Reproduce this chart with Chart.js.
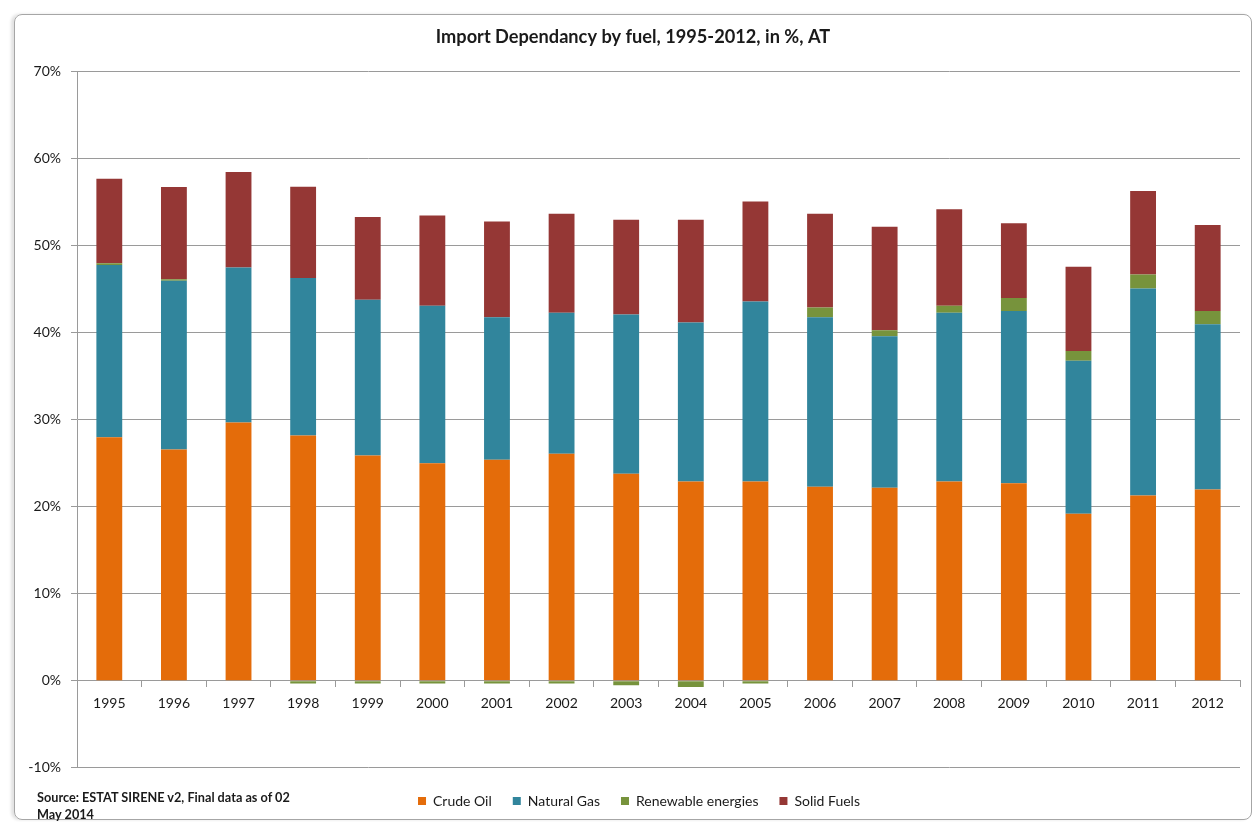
<!DOCTYPE html>
<html>
<head>
<meta charset="utf-8">
<script src="https://cdn.jsdelivr.net/npm/chart.js@4.4.1/dist/chart.umd.min.js"></script>
<style>
  html, body { margin: 0; padding: 0; background: #fff; }
  #wrap { position: relative; width: 1253px; height: 822px; overflow: hidden; }
  #frame {
    position: absolute; left: 14px; top: 14px; width: 1236px; height: 804px;
    border: 1px solid #a6a6a6; border-radius: 8px; box-shadow: -3px 0 3px #e2e2e2;
  }
  canvas { position: absolute; left: 0; top: 0; }
  #source {
    position: absolute; left: 37px; top: 789px;
    font: bold 12.7px Lato, sans-serif; line-height: 17px; color: #1a1a1a;
  }
</style>
</head>
<body>
<div id="wrap">
  <div id="frame"></div>
  <canvas id="importChart" width="1253" height="822"></canvas>
  <div id="source">Source: ESTAT SIRENE v2, Final data as of 02<br>May 2014</div>
</div>
<script>
// values in %
const years = ['1995', '1996', '1997', '1998', '1999', '2000', '2001', '2002', '2003',
               '2004', '2005', '2006', '2007', '2008', '2009', '2010', '2011', '2012'];
const crudeOil   = [28.0, 26.6, 29.7, 28.2, 25.9, 25.0, 25.4, 26.1, 23.8, 22.9, 22.9, 22.3, 22.2, 22.9, 22.7, 19.2, 21.3, 22.0];
const naturalGas = [19.8, 19.4, 17.8, 18.1, 17.9, 18.1, 16.4, 16.2, 18.3, 18.3, 20.7, 19.5, 17.4, 19.4, 19.8, 17.6, 23.8, 19.0];
const renewables = [0.2, 0.15, 0, -0.3, -0.3, -0.3, -0.3, -0.3, -0.5, -0.7, -0.3, 1.1, 0.7, 0.8, 1.5, 1.1, 1.6, 1.5];
const solidFuels = [9.7, 10.6, 11.0, 10.5, 9.5, 10.4, 11.0, 11.4, 10.9, 11.8, 11.5, 10.8, 11.9, 11.1, 8.6, 9.7, 9.6, 9.9];

const gridGrey = '#9a9a9a';
const textCol = '#1a1a1a';

// nudge title and legend a bit right, like in the excel original
const shiftBoxes = {
  id: 'shiftBoxes',
  afterLayout(chart) {
    if (chart.titleBlock) { chart.titleBlock.left += 6; chart.titleBlock.right += 6; }
    if (chart.legend) { chart.legend.left += 12; chart.legend.right += 12; }
  }
};

const ctx = document.getElementById('importChart').getContext('2d');
new Chart(ctx, {
  type: 'bar',
  data: {
    labels: years,
    datasets: [
      { label: 'Crude Oil', data: crudeOil, backgroundColor: '#E46C0A' },
      { label: 'Natural Gas', data: naturalGas, backgroundColor: '#31859C' },
      { label: 'Renewable energies', data: renewables, backgroundColor: '#77933C' },
      { label: 'Solid Fuels', data: solidFuels, backgroundColor: '#953735' }
    ]
  },
  options: {
    responsive: false,
    animation: false,
    layout: { padding: { left: 14, right: 13, top: 14, bottom: 4 } },
    datasets: { bar: { categoryPercentage: 1, barPercentage: 0.4 } },
    plugins: {
      title: {
        display: true,
        text: 'Import Dependancy by fuel, 1995-2012, in %, AT',
        color: textCol,
        font: { family: 'Lato', size: 18.2, weight: 'bold' },
        padding: { top: 12, bottom: 24 }
      },
      legend: {
        position: 'bottom',
        // empty title only adds space between plot and legend items
        title: { display: true, text: ' ', font: { size: 1 }, padding: { top: 1, bottom: 3 } },
        labels: {
          boxWidth: 8, boxHeight: 8, padding: 21, color: textCol,
          font: { family: 'Lato', size: 14 }
        }
      },
      tooltip: { enabled: false }
    },
    scales: {
      x: {
        stacked: true,
        position: { y: 0 },
        grid: { drawOnChartArea: false, drawTicks: true, tickLength: 6, color: gridGrey },
        border: { color: gridGrey },
        ticks: { color: textCol, font: { family: 'Lato', size: 14 }, padding: 8 }
      },
      y: {
        stacked: true,
        min: -10,
        max: 70,
        ticks: {
          stepSize: 10,
          color: textCol,
          font: { family: 'Lato', size: 14 },
          padding: 10,
          callback: v => v + '%'
        },
        grid: { color: gridGrey, tickLength: 6 },
        border: { color: gridGrey },
        afterFit: s => { s.width = 63; }
      }
    }
  },
  plugins: [shiftBoxes]
});
</script>
</body>
</html>
